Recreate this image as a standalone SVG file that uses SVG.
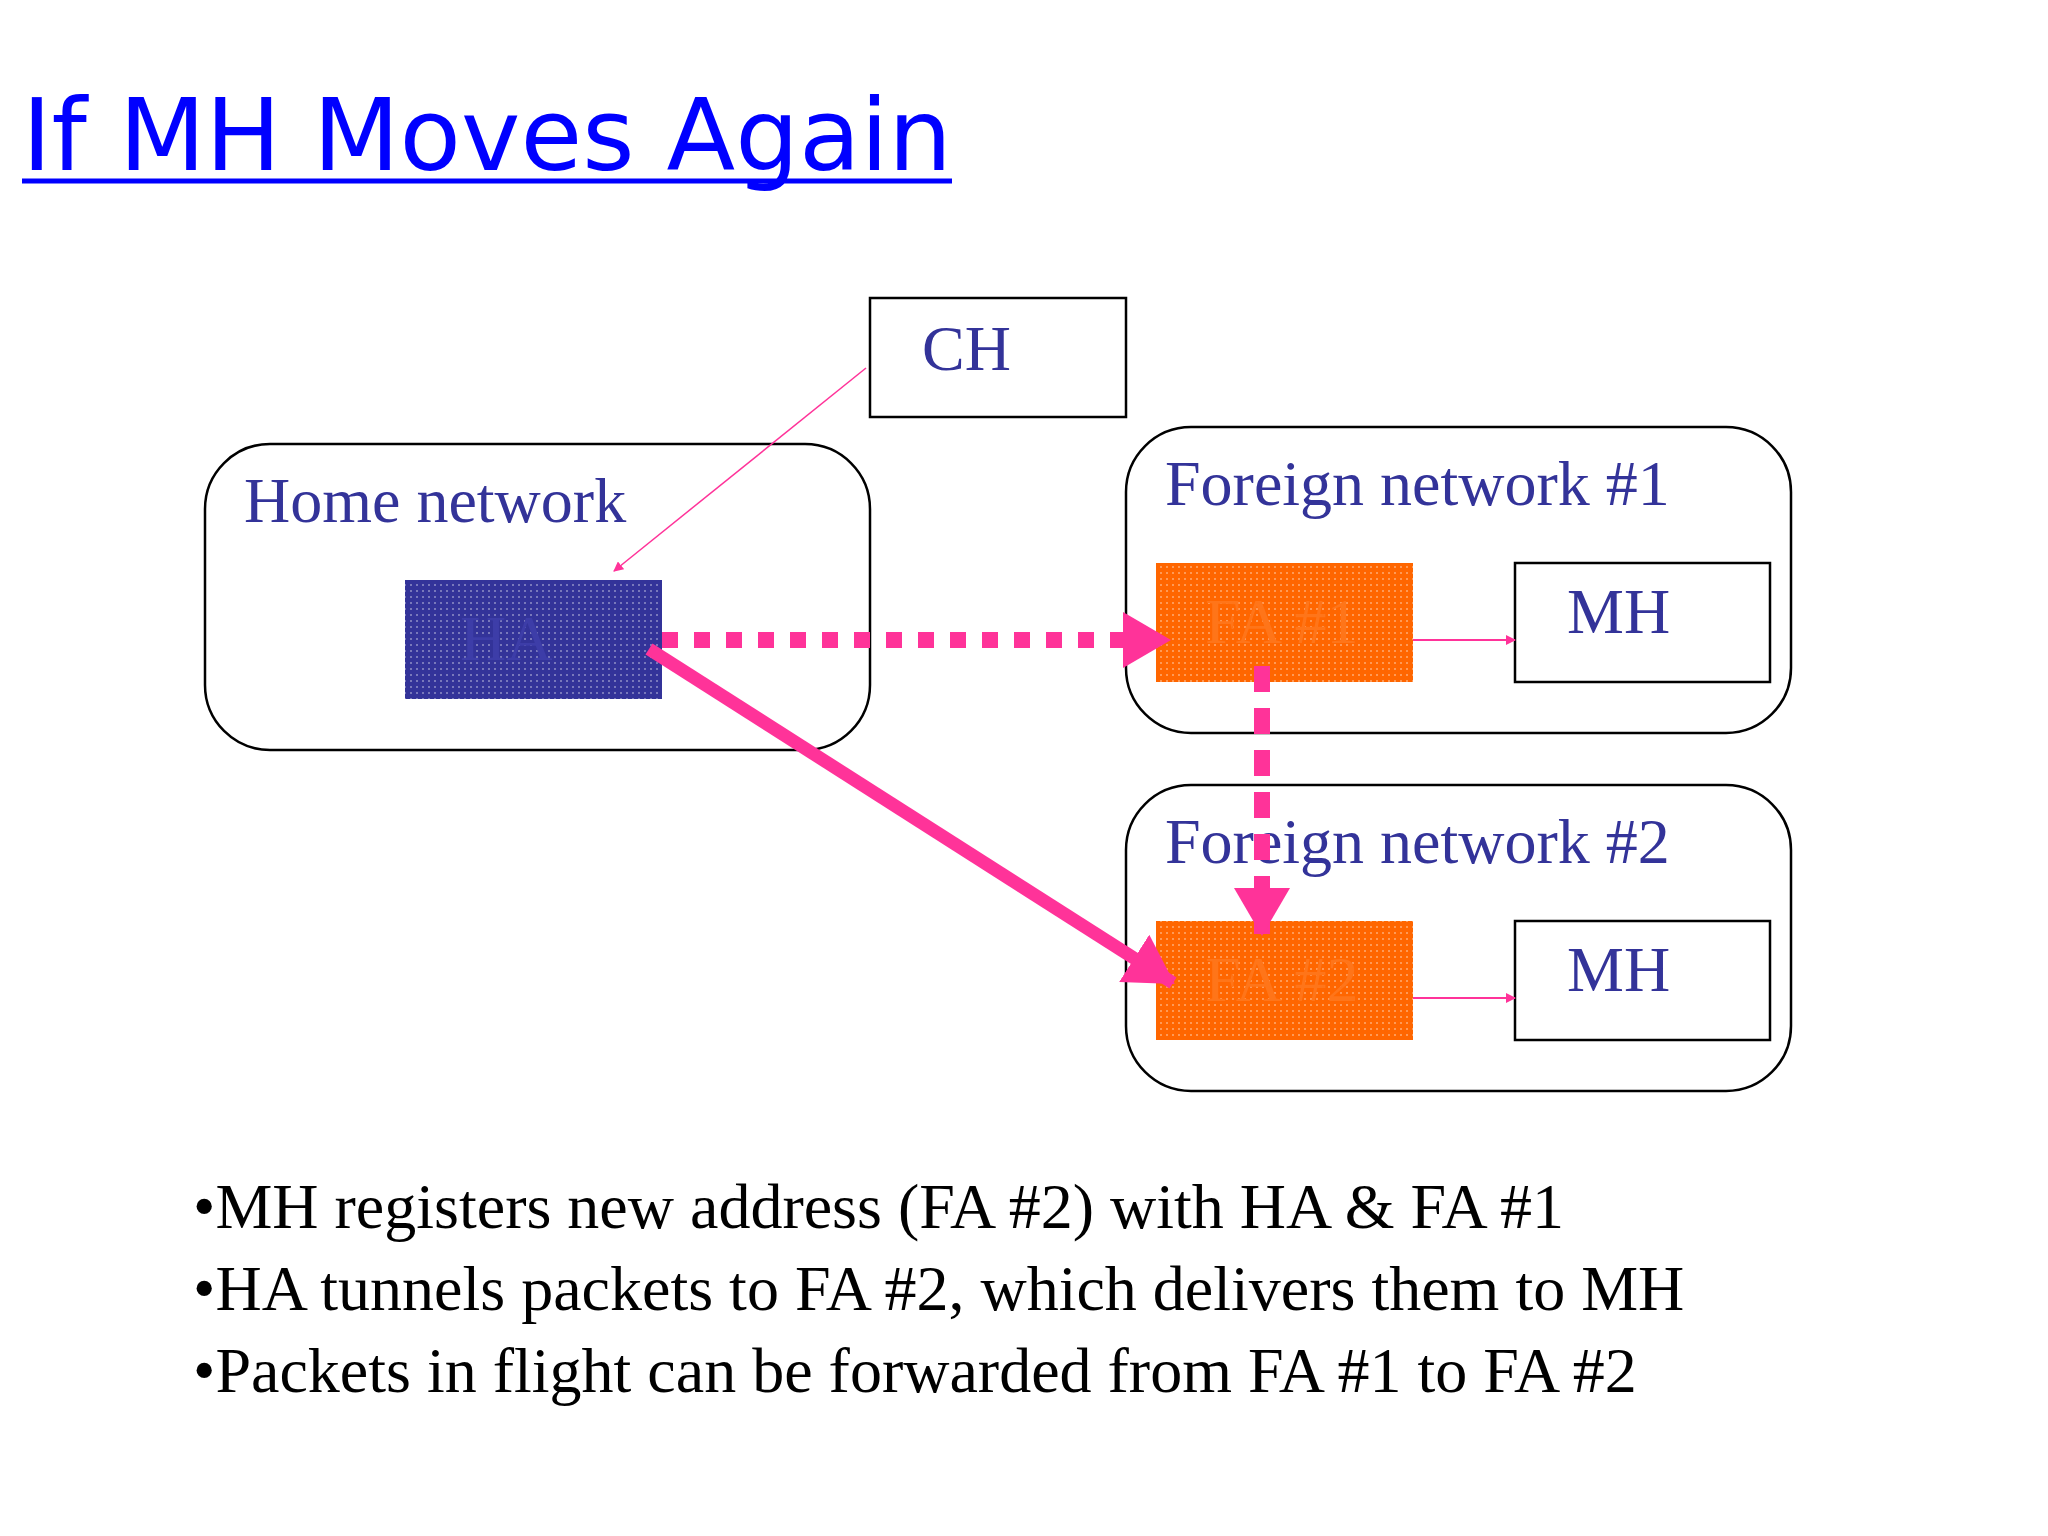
<svg xmlns="http://www.w3.org/2000/svg" width="2048" height="1536" viewBox="0 0 2048 1536">
<style>
.box{fill:#fff;stroke:#000;stroke-width:2.5}
.lbl{font-family:"Liberation Serif",serif;fill:#333399}
.blt{font-family:"Liberation Serif",serif;fill:#000;font-size:64px}
.pk{stroke:#ff3399;fill:none}
</style>
<defs>
<pattern id="dots" width="6" height="6" patternUnits="userSpaceOnUse"><circle cx="3" cy="3" r="1" fill="#fff" fill-opacity="0.45"/></pattern>
<marker id="sa" markerWidth="10" markerHeight="10" refX="9" refY="5" orient="auto" markerUnits="userSpaceOnUse"><path d="M0,0 L10,5 L0,10 Z" fill="#ff3399"/></marker>
<marker id="ba" markerWidth="48" markerHeight="56" refX="46" refY="28" orient="auto" markerUnits="userSpaceOnUse"><path d="M0,0 L48,28 L0,56 Z" fill="#ff3399"/></marker>
</defs>
<rect width="2048" height="1536" fill="#fff"/>
<text x="22" y="170" font-family="'DejaVu Sans',sans-serif" font-size="100" fill="#0000ff" textLength="930" lengthAdjust="spacingAndGlyphs">If MH Moves Again</text>
<line x1="22" y1="181" x2="952" y2="181" stroke="#0000ff" stroke-width="5"/>
<g id="home"><rect class="box" x="205" y="444" width="665" height="306" rx="65"/><text class="lbl" x="244" y="522" font-size="64">Home network</text></g>
<g id="fn1"><rect class="box" x="1126" y="427" width="665" height="306" rx="65"/><text class="lbl" x="1165" y="505" font-size="64">Foreign network #1</text></g>
<g id="fn2"><rect class="box" x="1126" y="785" width="665" height="306" rx="65"/><text class="lbl" x="1165" y="863" font-size="64">Foreign network #2</text></g>
<g id="ch"><rect class="box" x="870" y="298" width="256" height="119"/><text class="lbl" x="922" y="370" font-size="64">CH</text></g>
<g id="ha"><rect x="405" y="580" width="257" height="119" fill="#333399"/><rect x="405" y="580" width="257" height="119" fill="url(#dots)"/><text x="460" y="660" font-family="'Liberation Serif',serif" font-size="64" fill="#3d3da8">HA</text></g>
<g id="fa1"><rect x="1156" y="563" width="257" height="119" fill="#ff6600"/><rect x="1156" y="563" width="257" height="119" fill="url(#dots)"/><text x="1205" y="643" font-family="'Liberation Serif',serif" font-size="64" fill="#ff7519">FA #1</text></g>
<g id="fa2"><rect x="1156" y="921" width="257" height="119" fill="#ff6600"/><rect x="1156" y="921" width="257" height="119" fill="url(#dots)"/><text x="1205" y="1001" font-family="'Liberation Serif',serif" font-size="64" fill="#ff7519">FA #2</text></g>
<g id="mh1"><rect class="box" x="1515" y="563" width="255" height="119"/><text class="lbl" x="1567" y="633" font-size="64">MH</text></g>
<g id="mh2"><rect class="box" x="1515" y="921" width="255" height="119"/><text class="lbl" x="1567" y="991" font-size="64">MH</text></g>
<g id="connectors">
<line class="pk" x1="866" y1="368" x2="614" y2="571" stroke-width="1.5" marker-end="url(#sa)"/>
<line class="pk" x1="662" y1="640" x2="1169" y2="640" stroke-width="16" stroke-dasharray="16,16" marker-end="url(#ba)"/>
<line class="pk" x1="1262" y1="666" x2="1262" y2="934" stroke-width="16" stroke-dasharray="26,16" marker-end="url(#ba)"/>
<line class="pk" x1="649" y1="649" x2="1173" y2="983" stroke-width="13" marker-end="url(#ba)"/>
<line class="pk" x1="1413" y1="640" x2="1515" y2="640" stroke-width="2" marker-end="url(#sa)"/>
<line class="pk" x1="1413" y1="998" x2="1515" y2="998" stroke-width="2" marker-end="url(#sa)"/>
</g>
<text class="blt" x="193" y="1228">•MH registers new address (FA #2) with HA &amp; FA #1</text>
<text class="blt" x="193" y="1310">•HA tunnels packets to FA #2, which delivers them to MH</text>
<text class="blt" x="193" y="1392">•Packets in flight can be forwarded from FA #1 to FA #2</text>
</svg>
